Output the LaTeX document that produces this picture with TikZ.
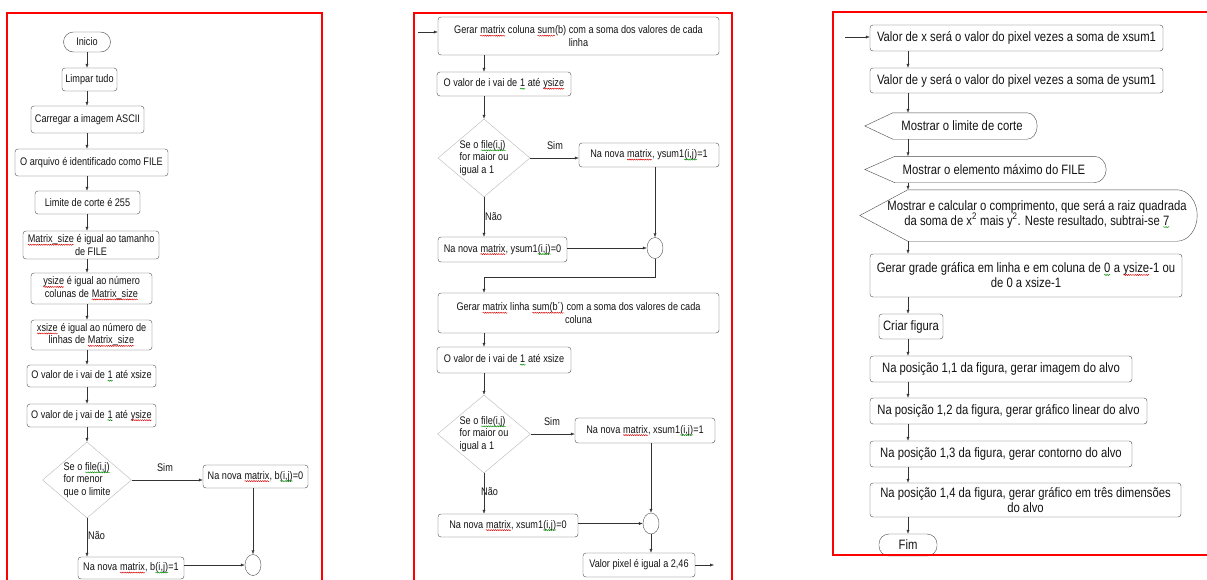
\documentclass[tikz,border=0pt]{standalone}
\usepackage{fontspec}
\setmainfont{Liberation Sans}[FakeStretch=0.83]
\usetikzlibrary{arrows.meta,shapes.geometric,calc,decorations.pathmorphing}

% spell-check waves under some words
\newcommand{\wavline}[2]{\tikz[baseline=(w.base)]{\node[shape=rectangle, draw=none, inner sep=0pt, outer sep=0pt,
    minimum width=0pt, minimum height=0pt, rounded corners=0pt] (w) {#2};
  \draw[#1, line width=0.45pt, sharp corners, decorate, decoration={snake, amplitude=0.55pt, segment length=2.2pt}]
    ([yshift=-2pt]w.base west) -- ([yshift=-2pt]w.base east);}}
\newcommand{\wavr}[1]{\wavline{red!85!black}{#1}}
\newcommand{\wavg}[1]{\wavline{green!55!black}{#1}}

% outline of a display box: tip offset, end radius
\newcommand{\dispoutline}[3]{%
  \draw[displine] ([xshift=-#2]#1.west) -- (#1.north west) -- ([xshift=-#3]#1.north east)
    .. controls ([xshift=-0.45*#3]#1.north east) and ($(#1.east)!0.55!(#1.north east)$) .. (#1.east)
    .. controls ($(#1.east)!0.55!(#1.south east)$) and ([xshift=-0.45*#3]#1.south east) .. ([xshift=-#3]#1.south east)
    -- (#1.south west) -- cycle;}

\tikzset{
  proc/.style={draw=gray!60!black, rounded corners=3pt, inner sep=1pt, align=center},
  term/.style={draw=gray!60!black, rounded corners=10pt, inner sep=1pt},
  dec/.style={diamond, draw=gray!55, inner sep=0pt},
  joint/.style={ellipse, draw=gray!60!black, inner sep=0pt, minimum width=16pt, minimum height=21pt},
  disp/.style={inner sep=1pt, align=center},
  displine/.style={draw=gray!60!black},
  flow/.style={draw=black!80, -{Latex[length=4pt,width=3pt]}},
  panel/.style={draw=red, line width=1.5pt}
}

\begin{document}
\begin{tikzpicture}[x=1pt, y=-1pt, font=\fontsize{11}{12.5}\selectfont, text=black!92]
  \useasboundingbox (0,0) rectangle (1207,579);
  \clip (0,0) rectangle (1207,579);
  \fill[white] (0,0) rectangle (1207,579);

  % Panel 1
  \coordinate (sp1) at (87,0);
  \node[term, minimum width=47pt, minimum height=20pt] (ini) at (87,42) {Inicio};
  \node[proc, minimum width=55pt, minimum height=23pt] (limpar) at (89.5,79.5) {Limpar tudo};
  \node[proc, minimum width=113pt, minimum height=27pt] (carregar) at (87.5,119.5) {Carregar a imagem ASCII};
  \node[proc, minimum width=153pt, minimum height=27pt] (arquivo) at (91.5,162.5) {O arquivo é identificado como FILE};
  \node[proc, minimum width=105pt, minimum height=23pt] (limite) at (87.5,202.5) {Limite de corte é 255};
  \node[proc, minimum width=136pt, minimum height=28pt] (msize) at (91,245) {\wavr{Matrix\_size} é igual ao tamanho\\de FILE};
  \node[proc, minimum width=121pt, minimum height=31pt] (ysz) at (91.5,288.5) {\wavr{ysize} é igual ao número\\colunas de \wavr{Matrix\_size}};
  \node[proc, minimum width=121pt, minimum height=30pt] (xsz) at (91.5,335) {\wavr{xsize} é igual ao número de\\linhas de \wavr{Matrix\_size}};
  \node[proc, minimum width=129pt, minimum height=22pt] (vali) at (91.5,376) {O valor de i vai de \wavg{1} até xsize};
  \node[proc, minimum width=129pt, minimum height=23pt] (valj) at (91.5,415.5) {O valor de j vai de \wavg{1} até \wavr{ysize}};
  \node[dec, minimum width=89pt, minimum height=76pt] (dec1) at (87,480) {};
  \node[align=left, inner sep=0pt] (dec1t) at (dec1) {Se o \wavg{file(i,j)}\\for menor\\que o limite};
  \node[proc, minimum width=105pt, minimum height=23pt] (bzero) at (255.5,476.5) {Na nova \wavr{matrix}, b\wavg{(i,j)}=0};
  \node[proc, minimum width=106pt, minimum height=22pt] (bone) at (131,568) {Na nova \wavr{matrix}, b\wavg{(i,j)}=1};
  \node[joint] (join1) at (253,565) {};
  \node (sim1) at (165,468) {Sim};
  \node[anchor=west, inner sep=0pt] (nao1) at (88,536) {Não};

  % Draw arrows
  \foreach \a/\b in {ini/limpar, limpar/carregar, carregar/arquivo, arquivo/limite, limite/msize,
    msize/ysz, ysz/xsz, xsz/vali, vali/valj, valj/dec1}
    \draw[flow] (\a.south -| sp1) -- (\b.north -| sp1);
  \draw[flow] (dec1.east) -- (dec1.east -| bzero.west);
  \draw[flow] (join1 |- bzero.south) -- (join1.north);
  \draw[flow] (dec1.south) -- (dec1.south |- bone.north);
  \draw[flow] (bone.east |- join1) -- (join1.west);

  % Panel 2
  \coordinate (sp2) at (484,0);
  \coordinate (in2) at (418,32);
  \node[proc, minimum width=281pt, minimum height=38pt] (gsum) at (578.5,36) {Gerar \wavr{matrix} coluna \wavr{sum}(b) com a soma dos valores de cada\\linha};
  \node[proc, minimum width=134pt, minimum height=24pt] (vali2) at (504,84) {O valor de i vai de \wavg{1} até \wavr{ysize}};
  \node[dec, minimum width=92pt, minimum height=78pt] (dec2) at (484,158) {};
  \node[align=left, inner sep=0pt] (dec2t) at (dec2) {Se o \wavg{file(i,j)}\\for maior ou\\igual a 1};
  \node[proc, minimum width=140pt, minimum height=24pt] (yone) at (649,155) {Na nova \wavr{matrix}, ysum1\wavg{(i,j)}=1};
  \node[proc, minimum width=129pt, minimum height=25pt] (yzero) at (502.5,249.5) {Na nova \wavr{matrix}, ysum1\wavg{(i,j)}=0};
  \node[joint] (join2) at (655,248) {};
  \coordinate (bend2) at (484,277);
  \node[proc, minimum width=281pt, minimum height=40pt] (gsum2) at (578.5,313) {Gerar \wavr{matrix} linha \wavr{sum(b´)} com a soma dos valores de cada\\coluna};
  \node[proc, minimum width=134pt, minimum height=26pt] (valx2) at (504,360) {O valor de i vai de \wavg{1} até xsize};
  \node[dec, minimum width=93pt, minimum height=78pt] (dec3) at (484,434) {};
  \node[align=left, inner sep=0pt] (dec3t) at (dec3) {Se o \wavg{file(i,j)}\\for maior ou\\igual a 1};
  \node[proc, minimum width=140pt, minimum height=25pt] (xone) at (645,430.5) {Na nova \wavr{matrix}, xsum1\wavg{(i,j)}=1};
  \node[proc, minimum width=140pt, minimum height=23pt] (xzero) at (508,525.5) {Na nova \wavr{matrix}, xsum1\wavg{(i,j)}=0};
  \node[joint] (join3) at (651,523.5) {};
  \node[proc, minimum width=112pt, minimum height=24pt] (pixel) at (639,565) {Valor pixel é igual a 2,46};
  \coordinate (out2) at (714,565);
  \node (sim2) at (555,146) {Sim};
  \node[anchor=west, inner sep=0pt] (nao2) at (485,217) {Não};
  \node (sim3) at (552,422) {Sim};
  \node[anchor=west, inner sep=0pt] (nao3) at (481,492) {Não};

  % Draw arrows
  \draw[flow] (in2) -- (in2 -| gsum.west);
  \foreach \a/\b in {gsum/vali2, vali2/dec2, gsum2/valx2, valx2/dec3}
    \draw[flow] (\a.south -| sp2) -- (\b.north -| sp2);
  \draw[flow] (dec2.east) -- (dec2.east -| yone.west);
  \draw[flow] (join2 |- yone.south) -- (join2.north);
  \draw[flow] (dec2.south) -- (dec2.south |- yzero.north);
  \draw[flow] (yzero.east |- join2) -- (join2.west);
  \draw[flow] (join2.south) |- (bend2) -- (gsum2.north -| bend2);
  \draw[flow] (dec3.east) -- (dec3.east -| xone.west);
  \draw[flow] (join3 |- xone.south) -- (join3.north);
  \draw[flow] (dec3.south) -- (dec3.south |- xzero.north);
  \draw[flow] (xzero.east |- join3) -- (join3.west);
  \draw[flow] (join3.south) -- (join3 |- pixel.north);
  \draw[flow] (pixel.east) -- (out2);

  % Panel 3
  \begin{scope}[font=\fontsize{13.6}{15}\selectfont]
  \coordinate (sp3) at (908,0);
  \coordinate (in3) at (845,37);
  \node[proc, minimum width=293pt, minimum height=26pt] (valx3) at (1016.5,38) {Valor de x será o valor do pixel vezes a soma de xsum1};
  \node[proc, minimum width=293pt, minimum height=25pt] (valy3) at (1016.5,80.5) {Valor de y será o valor do pixel vezes a soma de ysum1};
  \node[disp, minimum width=144pt, minimum height=26pt] (disp1) at (965,126) {};
  \node[inner sep=0pt] (disp1t) at (962,126) {Mostrar o limite de corte};
  \node[disp, minimum width=211pt, minimum height=26pt] (disp2) at (1000.5,169.5) {};
  \node[inner sep=0pt] (disp2t) at (994,169.5) {Mostrar o elemento máximo do FILE};
  \node[disp, minimum width=289pt, minimum height=51pt] (disp3) at (1052.5,215.5) {};
  \node[align=center, inner sep=0pt] (disp3t) at (1037,214) {Mostrar e calcular o comprimento, que será a raiz quadrada\\da soma de x\textsuperscript{2} mais y\textsuperscript{2}. Neste resultado, subtrai-se \wavg{7}};
  \dispoutline{disp1}{28}{10}
  \dispoutline{disp2}{30}{12}
  \dispoutline{disp3}{48}{20}
  \node[proc, minimum width=312pt, minimum height=43pt] (grade) at (1026,275.5) {Gerar grade gráfica em linha e em coluna de \wavg{0} a \wavr{ysize}-1 ou\\de 0 a xsize-1};
  \node[proc, minimum width=64pt, minimum height=25pt] (criar) at (911,326.5) {Criar figura};
  \node[proc, minimum width=262pt, minimum height=26pt] (pos11) at (1001,369) {Na posição 1,1 da figura, gerar imagem do alvo};
  \node[proc, minimum width=277pt, minimum height=26pt] (pos12) at (1008.5,411) {Na posição 1,2 da figura, gerar gráfico linear do alvo};
  \node[proc, minimum width=262pt, minimum height=26pt] (pos13) at (1001,454) {Na posição 1,3 da figura, gerar contorno do alvo};
  \node[proc, minimum width=311pt, minimum height=34pt] (pos14) at (1025.5,500) {Na posição 1,4 da figura, gerar gráfico em três dimensões\\do alvo};
  \node[term, minimum width=58pt, minimum height=22pt] (fim) at (908,545) {Fim};

  % Draw arrows
  \draw[flow] (in3) -- (in3 -| valx3.west);
  \foreach \a/\b in {valx3/valy3, valy3/disp1, disp1/disp2, disp2/disp3, disp3/grade, grade/criar,
    criar/pos11, pos11/pos12, pos12/pos13, pos13/pos14, pos14/fim}
    \draw[flow] (\a.south -| sp3) -- (\b.north -| sp3);
  \end{scope}

  % Red frames
  \draw[panel] (7,13) rectangle (322,600);
  \draw[panel] (414,13) rectangle (732,600);
  \draw[panel] (833,12) rectangle (1230,555);
\end{tikzpicture}
\end{document}
